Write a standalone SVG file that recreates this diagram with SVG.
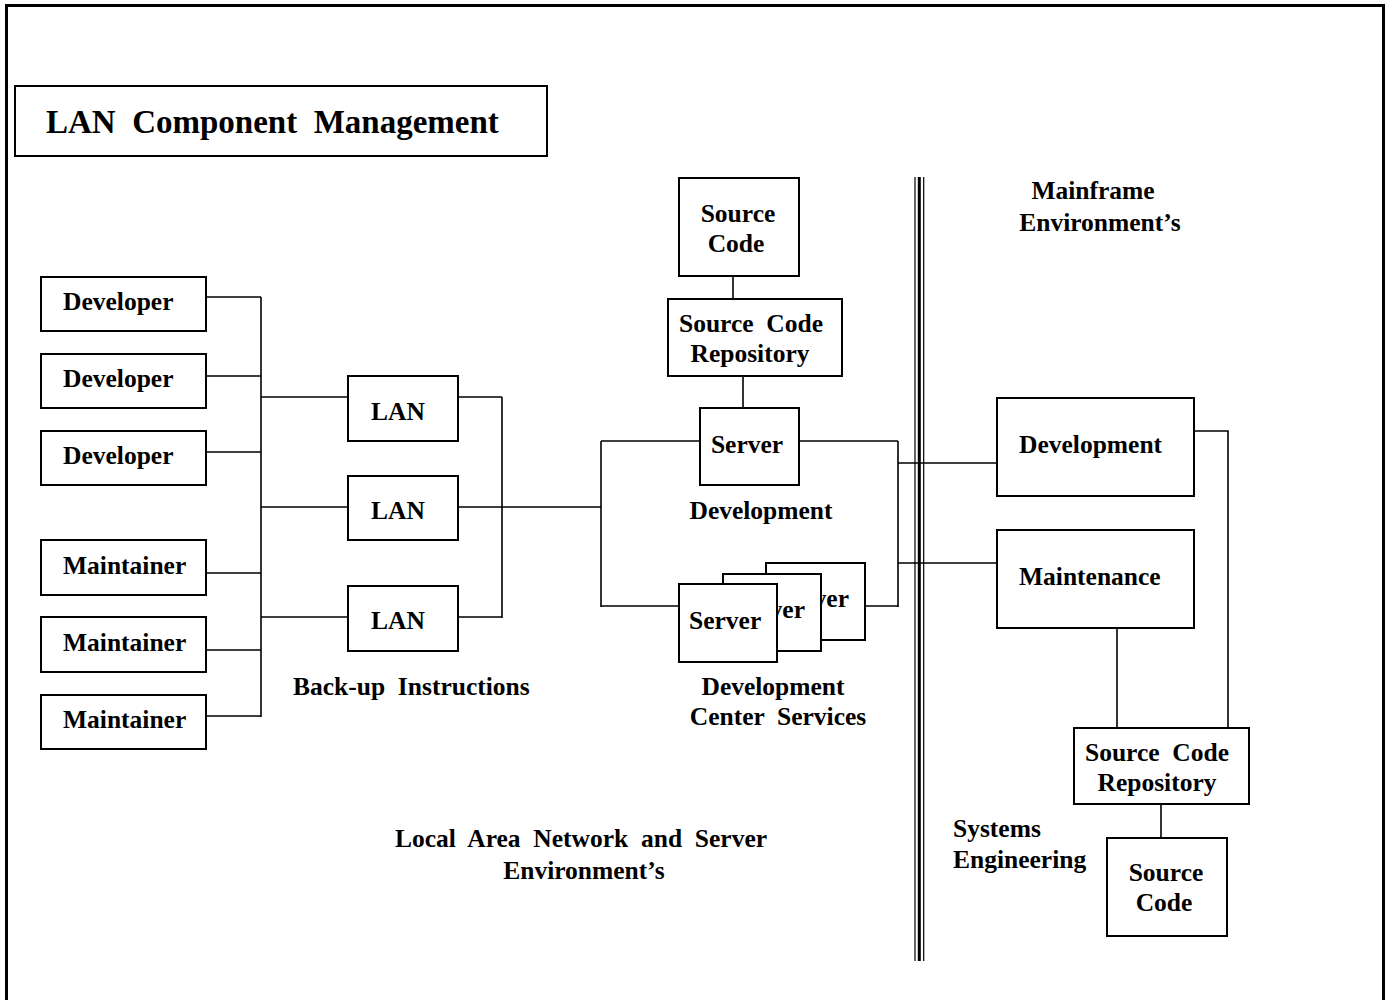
<svg xmlns="http://www.w3.org/2000/svg" width="1388" height="1000" viewBox="0 0 1388 1000">
  <style>
    .box { fill: #ffffff; stroke: #000000; stroke-width: 2; }
    .wire { fill: none; stroke: #000000; stroke-width: 1.6; }
    .lbl { font-family: "Liberation Serif", "Times New Roman", serif; font-weight: bold; font-size: 25.5px; fill: #000000; }
    .mid { text-anchor: middle; }
    .end { text-anchor: end; }
    .title { font-family: "Liberation Serif", "Times New Roman", serif; font-weight: bold; font-size: 33px; fill: #000000; }
  </style>

  <rect x="0" y="0" width="1388" height="1000" fill="#ffffff"/>
  <!-- page frame -->
  <rect x="6.5" y="5.5" width="1377" height="1010" fill="none" stroke="#000" stroke-width="3"/>

  <!-- title -->
  <g id="title">
    <rect class="box" x="15" y="86" width="532" height="70"/>
    <text class="title" x="46" y="133" xml:space="preserve">LAN  Component  Management</text>
  </g>

  <!-- divider between LAN and mainframe sides -->
  <g id="divider" stroke="#000">
    <line x1="915" y1="177" x2="915" y2="961" stroke-width="1.2"/>
    <line x1="919.3" y1="177" x2="919.3" y2="961" stroke-width="3"/>
    <line x1="923.7" y1="177" x2="923.7" y2="961" stroke-width="1.2"/>
  </g>

  <!-- connectors -->
  <g id="connectors">
    <!-- workstations to bus -->
    <path class="wire" d="M206 297 H261 M206 376 H261 M206 452 H261 M206 573 H261 M206 650 H261 M206 716 H261"/>
    <path class="wire" d="M261 297 V717"/>
    <!-- bus to LANs -->
    <path class="wire" d="M261 397 H348 M261 507 H348 M261 617 H348"/>
    <!-- LANs to backbone -->
    <path class="wire" d="M458 397 H502 M458 507 H502 M458 617 H502 M502 397 V618"/>
    <path class="wire" d="M502 507 H601 M601 441 V607 M601 441 H700 M601 606 H679"/>
    <!-- source code chain -->
    <path class="wire" d="M733 276 V299 M743 376 V408"/>
    <!-- servers to mainframe link -->
    <path class="wire" d="M799 441 H898 M865 606 H898 M898 441 V607"/>
    <path class="wire" d="M898 463 H997 M898 563 H997"/>
    <!-- mainframe side -->
    <path class="wire" d="M1194 431 H1228 V728"/>
    <path class="wire" d="M1117 628 V728"/>
    <path class="wire" d="M1161 804 V838"/>
  </g>

  <!-- developer workstations -->
  <g id="developer1"><rect class="box" x="41" y="277" width="165" height="54"/><text class="lbl" x="63" y="310">Developer</text></g>
  <g id="developer2"><rect class="box" x="41" y="354" width="165" height="54"/><text class="lbl" x="63" y="387">Developer</text></g>
  <g id="developer3"><rect class="box" x="41" y="431" width="165" height="54"/><text class="lbl" x="63" y="464">Developer</text></g>

  <!-- maintainer workstations -->
  <g id="maintainer1"><rect class="box" x="41" y="540" width="165" height="55"/><text class="lbl" x="63" y="574">Maintainer</text></g>
  <g id="maintainer2"><rect class="box" x="41" y="617" width="165" height="55"/><text class="lbl" x="63" y="651">Maintainer</text></g>
  <g id="maintainer3"><rect class="box" x="41" y="695" width="165" height="54"/><text class="lbl" x="63" y="728">Maintainer</text></g>

  <!-- LAN segments -->
  <g id="lan1"><rect class="box" x="348" y="376" width="110" height="65"/><text class="lbl mid" x="398" y="420">LAN</text></g>
  <g id="lan2"><rect class="box" x="348" y="476" width="110" height="64"/><text class="lbl mid" x="398" y="519">LAN</text></g>
  <g id="lan3"><rect class="box" x="348" y="586" width="110" height="65"/><text class="lbl mid" x="398" y="629">LAN</text></g>
  <g id="backup-label"><text class="lbl" x="293" y="695" xml:space="preserve">Back-up  Instructions</text></g>

  <!-- development server with its source code -->
  <g id="lan-source-code">
    <rect class="box" x="679" y="178" width="120" height="98"/>
    <text class="lbl mid" x="738" y="222">Source</text>
    <text class="lbl mid" x="736" y="252">Code</text>
  </g>
  <g id="lan-repository">
    <rect class="box" x="668" y="299" width="174" height="77"/>
    <text class="lbl mid" x="751" y="332" xml:space="preserve">Source  Code</text>
    <text class="lbl mid" x="750" y="362">Repository</text>
  </g>
  <g id="dev-server">
    <rect class="box" x="700" y="408" width="99" height="77"/>
    <text class="lbl mid" x="747" y="453">Server</text>
  </g>
  <g id="dev-label"><text class="lbl mid" x="761" y="519">Development</text></g>

  <!-- development center server stack: rear cards show only the tail of their label -->
  <g id="dcs-server3">
    <rect class="box" x="766" y="563" width="99" height="77"/>
    <text class="lbl end" x="849" y="607">ver</text>
  </g>
  <g id="dcs-server2">
    <rect class="box" x="723" y="574" width="98" height="77"/>
    <text class="lbl end" x="805" y="618">ver</text>
  </g>
  <g id="dcs-server1">
    <rect class="box" x="679" y="584" width="98" height="78"/>
    <text class="lbl" x="689" y="629">Server</text>
  </g>
  <g id="dcs-label">
    <text class="lbl mid" x="773" y="695">Development</text>
    <text class="lbl mid" x="778" y="725" xml:space="preserve">Center  Services</text>
  </g>

  <g id="lan-env-label">
    <text class="lbl mid" x="581" y="847" xml:space="preserve">Local  Area  Network  and  Server</text>
    <text class="lbl mid" x="584" y="879">Environment’s</text>
  </g>

  <!-- mainframe side -->
  <g id="mainframe-label">
    <text class="lbl mid" x="1093" y="199">Mainframe</text>
    <text class="lbl mid" x="1100" y="231">Environment’s</text>
  </g>
  <g id="mf-development">
    <rect class="box" x="997" y="398" width="197" height="98"/>
    <text class="lbl" x="1019" y="453">Development</text>
  </g>
  <g id="mf-maintenance">
    <rect class="box" x="997" y="530" width="197" height="98"/>
    <text class="lbl" x="1019" y="585">Maintenance</text>
  </g>
  <g id="mf-repository">
    <rect class="box" x="1074" y="728" width="175" height="76"/>
    <text class="lbl mid" x="1157" y="761" xml:space="preserve">Source  Code</text>
    <text class="lbl mid" x="1157" y="791">Repository</text>
  </g>
  <g id="mf-source-code">
    <rect class="box" x="1107" y="838" width="120" height="98"/>
    <text class="lbl mid" x="1166" y="881">Source</text>
    <text class="lbl mid" x="1164" y="911">Code</text>
  </g>
  <g id="sys-eng-label">
    <text class="lbl" x="953" y="837">Systems</text>
    <text class="lbl" x="953" y="868">Engineering</text>
  </g>
</svg>
